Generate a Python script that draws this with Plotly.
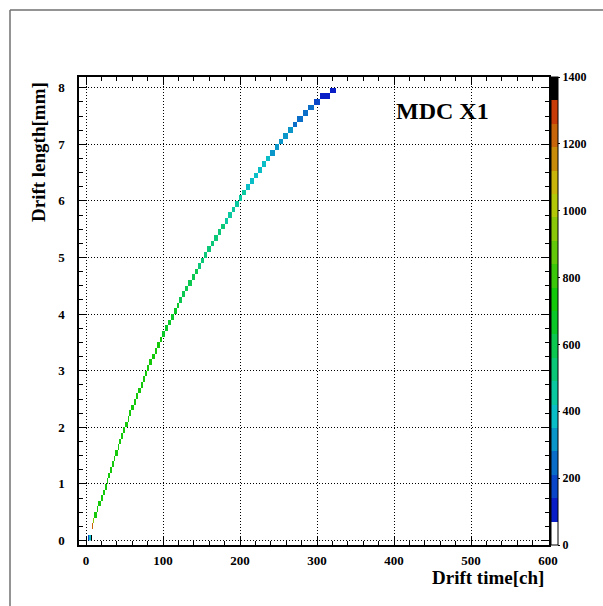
import numpy as np
import plotly.graph_objects as go

# ---------------- data ----------------
# lower edge of each drift-length bin (mm), bins are 0.1 mm high
length_lo = [round(0.2 + 0.1 * i, 1) for i in range(78)]  # 0.2 ... 7.9
# first TDC channel falling into each drift-length bin
t_first = [8, 9, 11, 14, 16, 19, 22, 24,
           27, 29, 31, 34, 36, 38, 41, 43, 46, 48,
           51, 54, 56, 59, 62, 65, 68, 71, 74, 76,
           79, 82, 86, 89, 92, 96, 99, 103, 106, 110,
           114, 118, 121, 125, 129, 133, 137, 141, 145, 149,
           153, 157, 162, 166, 171, 175, 180, 184, 189, 193,
           198, 203, 208, 213, 218, 223, 229, 234, 239, 245,
           250, 256, 262, 268, 274, 281, 288, 296, 304, 317]
t_last_edge = 324
# entries per channel in each drift-length bin
counts = [1240, 940] + [720] * 32 + [650] * 6 + [590] * 6 + [520] * 8 + \
         [450] * 6 + [385] * 6 + [315] * 5 + [245] * 4 + [175, 120, 100]
# cells in the very first length bin (0.0-0.1 mm)
low_t = [2, 3, 4, 5, 6, 7]
low_counts = [160, 160, 390, 390, 1380, 1380]

x_ticks = [0, 100, 200, 300, 400, 500, 600]
y_ticks = [0, 1, 2, 3, 4, 5, 6, 7, 8]
z_ticks = [0, 200, 400, 600, 800, 1000, 1200, 1400]

palette = ["#ffffff", "#0a1ec8", "#0a46c8", "#0a6ec8", "#0a96c8", "#0abec8",
           "#0ac8a0", "#0ac878", "#0ac850", "#0ac828", "#14c80a", "#3cc80a",
           "#64c80a", "#8cc80a", "#b4c80a", "#c8b40a", "#c88c0a", "#c8640a",
           "#c83c0a", "#000000"]

# ---------------- histogram grid ----------------
nx = 340
ny = 82
z = np.full((ny, nx), np.nan)
edges = t_first + [t_last_edge]
for j, (lo, c) in enumerate(zip(length_lo, counts)):
    row = int(round(lo * 10))
    for t in range(edges[j], edges[j + 1]):
        z[row, t] = c
for t, c in zip(low_t, low_counts):
    z[0, t] = c

xc = np.arange(nx) + 0.5
yc = np.arange(ny) * 0.1 + 0.05

n = len(palette)
cs = []
for i, col in enumerate(palette):
    cs.append([i / n, col])
    cs.append([(i + 1) / n, col])

FONT = "Liberation Serif"

fig = go.Figure()
fig.add_trace(go.Heatmap(
    x=xc, y=yc, z=z, zmin=0, zmax=1400, colorscale=cs,
    hoverongaps=False,
    colorbar=dict(
        x=1.004, xanchor="left", xpad=0, ypad=0,
        y=0.5, yanchor="middle", len=1, lenmode="fraction",
        thickness=7, outlinewidth=1, outlinecolor="black",
        tickvals=z_ticks, ticks="outside", ticklen=2, tickcolor="black",
        tickfont=dict(family=FONT, size=12, color="black", weight="bold"),
    ),
))

axis_common = dict(
    showline=True, linecolor="black", linewidth=1.5, mirror="allticks",
    ticks="inside", tickcolor="black", tickwidth=1,
    showgrid=True, gridcolor="black", griddash="1px,2px", gridwidth=1,
    zeroline=False,
    tickfont=dict(family=FONT, size=13, color="black", weight="bold"),
)

fig.update_xaxes(range=[-9.1, 601.3], tickvals=x_ticks, ticklen=8,
                 minor=dict(dtick=20, tick0=0, ticklen=4, ticks="inside",
                            tickcolor="black", showgrid=False),
                 ticklabelstandoff=3,
                 **axis_common)
fig.update_yaxes(range=[-0.08, 8.19], tickvals=y_ticks, ticklen=8,
                 minor=dict(dtick=0.25, tick0=0, ticklen=4, ticks="inside",
                            tickcolor="black", showgrid=False),
                 ticklabelstandoff=10,
                 **axis_common)

W, H = 603, 606
L, R, T, B = 79, 54, 77, 61
pw, ph = W - L - R, H - T - B


def px(xp):
    return (xp - L) / pw


def py(yp):
    return (H - B - yp) / ph


fig.update_layout(
    width=W, height=H,
    margin=dict(l=L, r=R, t=T, b=B),
    paper_bgcolor="white", plot_bgcolor="white",
    showlegend=False,
    annotations=[
        dict(text="Drift time[ch]", xref="paper", yref="paper",
             x=px(546), y=py(577), xanchor="right", yanchor="middle",
             showarrow=False,
             font=dict(family=FONT, size=19, color="black", weight="bold")),
        dict(text="Drift length[mm]", xref="paper", yref="paper",
             x=px(38), y=py(80), xanchor="center", yanchor="top",
             textangle=-90, showarrow=False,
             font=dict(family=FONT, size=19, color="black", weight="bold")),
        dict(text="MDC X1", xref="paper", yref="paper",
             x=px(442), y=py(111), xanchor="center", yanchor="middle",
             showarrow=False,
             font=dict(family=FONT, size=24, color="black", weight="bold")),
    ],
    shapes=[
        dict(type="line", xref="paper", yref="paper",
             x0=px(10), x1=px(610), y0=py(10), y1=py(10),
             line=dict(color="#707070", width=1.5)),
        dict(type="line", xref="paper", yref="paper",
             x0=px(10), x1=px(10), y0=py(10), y1=py(610),
             line=dict(color="#707070", width=1.5)),
    ],
)

fig.write_html("out.html")
